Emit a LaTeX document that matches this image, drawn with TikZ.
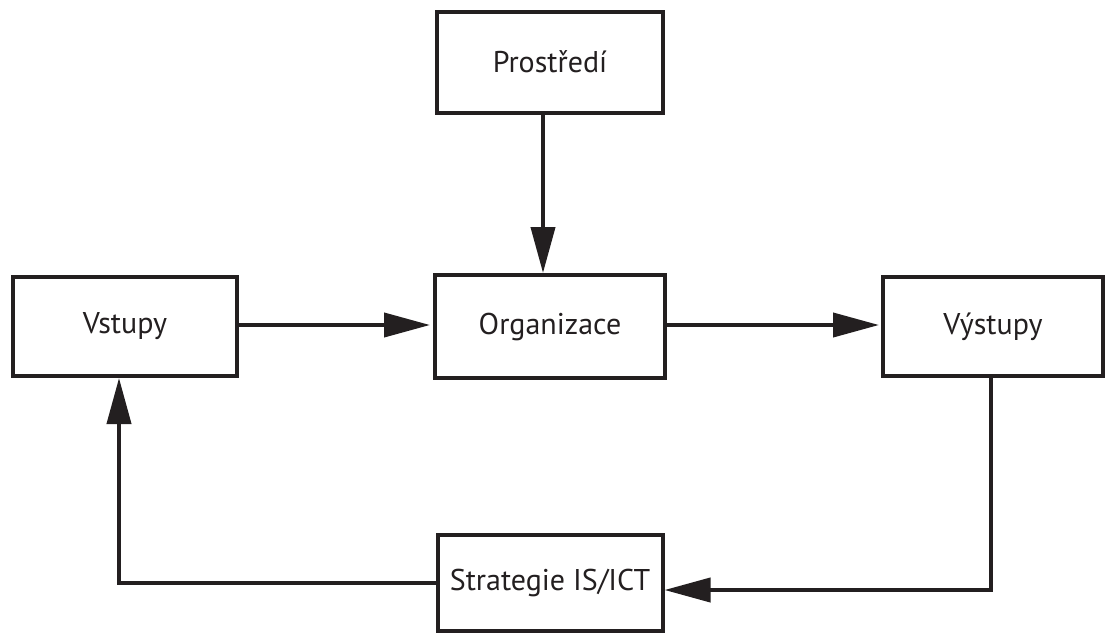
\documentclass[tikz,border=0pt]{standalone}
\usepackage{fontspec}
\setmainfont{PT Sans}
\usetikzlibrary{arrows.meta}
\definecolor{ink}{HTML}{231F20}
\begin{document}
\begin{tikzpicture}[x=1pt,y=-1pt,
  box/.style={draw=ink,line width=4pt,fill=white,inner sep=0pt,
    font=\fontsize{30}{34}\selectfont,text=ink},
  conn/.style={draw=ink,line width=4pt,-{Triangle[length=46pt,width=24pt]}},
  plain/.style={draw=ink,line width=4pt}]
\useasboundingbox (0,0) rectangle (1108,635);
\fill[white] (0,0) rectangle (1108,635);
\node[box,minimum width=226pt,minimum height=101pt] (P) at (550,62) {Prostředí};
\node[box,minimum width=224pt,minimum height=99pt] (V) at (125,326.5) {Vstupy};
\node[box,minimum width=230pt,minimum height=103pt] (O) at (550,326.5) {Organizace};
\node[box,minimum width=220pt,minimum height=99pt] (Y) at (993,326.5) {Výstupy};
\node[box,minimum width=225pt,minimum height=96pt] (S) at (550,583) {Strategie IS/ICT};
\draw[conn] ([xshift=-7pt]P.south) -- ([xshift=-7pt]O.north);
\draw[conn,shorten >=3pt] ([yshift=1.5pt]V.east) -- ([yshift=1.5pt]O.west);
\draw[conn,shorten >=2pt] ([yshift=1.5pt]O.east) -- ([yshift=1.5pt]Y.west);
\draw[conn] ([xshift=-2pt]Y.south) |- ([yshift=-7pt]S.east);
\draw[conn] (S.west) -| ([xshift=-6pt]V.south);
\end{tikzpicture}
\end{document}
